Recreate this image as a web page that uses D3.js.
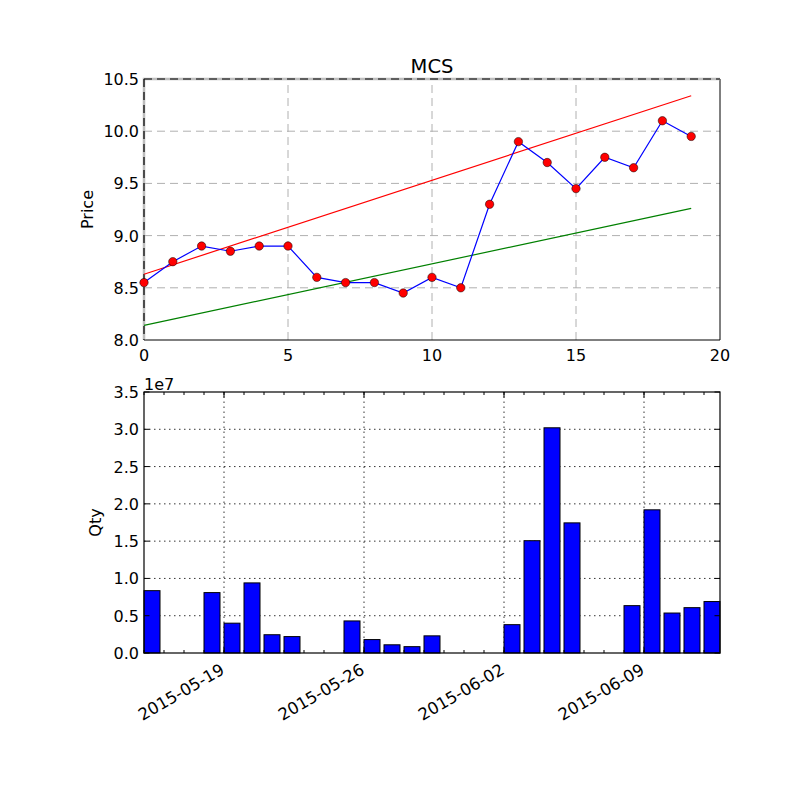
<!DOCTYPE html>
<html>
<head>
<meta charset="utf-8">
<script src="https://cdn.jsdelivr.net/npm/d3@7"></script>
<style>
  body { margin: 0; background: #fff; }
  text { font-family: "DejaVu Sans", sans-serif; fill: #000; }
</style>
</head>
<body>
<script>
// price series (index 0..19)
const priceIdx = d3.range(20);
const prices = [8.55, 8.75, 8.90, 8.85, 8.90, 8.90, 8.60, 8.55, 8.55, 8.45,
                8.60, 8.50, 9.30, 9.90, 9.70, 9.45, 9.75, 9.65, 10.10, 9.95];
// trend lines (end points at index 0 and 19)
const upperTrend = [[0, 8.63], [19, 10.34]];
const lowerTrend = [[0, 8.14], [19, 9.26]];

// volume
const dates = ["2015-05-15", "2015-05-18", "2015-05-19", "2015-05-20", "2015-05-21", "2015-05-22",
               "2015-05-25", "2015-05-26", "2015-05-27", "2015-05-28", "2015-05-29",
               "2015-06-02", "2015-06-03", "2015-06-04", "2015-06-05",
               "2015-06-08", "2015-06-09", "2015-06-10", "2015-06-11", "2015-06-12"];
const qty = [8.36e6, 8.1e6, 4.0e6, 9.4e6, 2.45e6, 2.2e6,
             4.3e6, 1.8e6, 1.1e6, 0.85e6, 2.3e6,
             3.8e6, 1.506e7, 3.02e7, 1.745e7,
             6.35e6, 1.92e7, 5.36e6, 6.08e6, 6.9e6];
const dateTicks = ["2015-05-19", "2015-05-26", "2015-06-02", "2015-06-09"];
const priceYTicks = [8.0, 8.5, 9.0, 9.5, 10.0, 10.5];
const priceXTicks = [0, 5, 10, 15, 20];
const qtyTicks = [0, 0.5e7, 1e7, 1.5e7, 2e7, 2.5e7, 3e7, 3.5e7];

const parse = d3.utcParse("%Y-%m-%d");
const fmt = d3.utcFormat("%Y-%m-%d");
const DAY = 864e5;

const svg = d3.select("body").append("svg").attr("width", 800).attr("height", 797);

// ---------- top: price ----------
const L = 144, R = 720;
const x1 = d3.scaleLinear().domain([0, 20]).range([L, R]);
const y1 = d3.scaleLinear().domain([8, 10.5]).range([340, 79]);

const gTop = svg.append("g");
gTop.append("g").selectAll("line").data(priceXTicks.slice(1, -1)).join("line")
  .attr("x1", d => x1(d)).attr("x2", d => x1(d)).attr("y1", y1(8)).attr("y2", y1(10.5))
  .attr("stroke", "#b0b0b0").attr("stroke-dasharray", "8,5");
gTop.append("g").selectAll("line").data(priceYTicks.slice(1, -1)).join("line")
  .attr("y1", d => y1(d)).attr("y2", d => y1(d)).attr("x1", L).attr("x2", R)
  .attr("stroke", "#b0b0b0").attr("stroke-dasharray", "8,5");

// frame: right/bottom solid, top/left grey with black dashes
gTop.append("path").attr("d", `M${L},${y1(8)}H${R}V${y1(10.5)}`)
  .attr("fill", "none").attr("stroke", "#000");
gTop.append("path").attr("d", `M${L},${y1(8)}V${y1(10.5)}H${R}`)
  .attr("fill", "none").attr("stroke", "#bdbdbd").attr("stroke-width", 2.5);
gTop.append("path").attr("d", `M${L},${y1(10.5)}V${y1(8)}M${L},${y1(10.5)}H${R}`)
  .attr("fill", "none").attr("stroke", "#000").attr("stroke-width", 1.2).attr("stroke-dasharray", "8,5");

const tl = d3.line().x(d => x1(d[0])).y(d => y1(d[1]));
gTop.append("path").datum(upperTrend).attr("d", tl).attr("fill", "none").attr("stroke", "#ff0000").attr("stroke-width", 1.2);
gTop.append("path").datum(lowerTrend).attr("d", tl).attr("fill", "none").attr("stroke", "#008000").attr("stroke-width", 1.2);

const pl = d3.line().x((d, i) => x1(priceIdx[i])).y(d => y1(d));
gTop.append("path").datum(prices).attr("d", pl).attr("fill", "none").attr("stroke", "#0000ff").attr("stroke-width", 1.2);
gTop.append("g").selectAll("circle").data(prices).join("circle")
  .attr("cx", (d, i) => x1(priceIdx[i])).attr("cy", d => y1(d)).attr("r", 4.2)
  .attr("fill", "#ff0000").attr("stroke", "#000").attr("stroke-width", 0.5);

gTop.append("g").selectAll("text").data(priceYTicks).join("text")
  .attr("x", 139).attr("y", d => y1(d) + 6).attr("text-anchor", "end").attr("font-size", 16)
  .text(d => d.toFixed(1));
gTop.append("g").selectAll("text").data(priceXTicks).join("text")
  .attr("x", d => x1(d)).attr("y", 361).attr("text-anchor", "middle").attr("font-size", 16)
  .text(d => d);
gTop.append("text").attr("x", (L + R) / 2).attr("y", 73).attr("text-anchor", "middle")
  .attr("font-size", 19.5).text("MCS");
gTop.append("text").attr("transform", `translate(93,${(79 + 340) / 2}) rotate(-90)`)
  .attr("text-anchor", "middle").attr("font-size", 16).text("Price");

// ---------- bottom: qty ----------
const d0 = parse(dates[0]), d1 = new Date(+parse(dates[dates.length - 1]) + 0.8 * DAY);
const x2 = d3.scaleUtc().domain([d0, d1]).range([L, R]);
const y2 = d3.scaleLinear().domain([0, 3.5e7]).range([653, 392]);
const gBot = svg.append("g");

gBot.append("g").selectAll("line").data(dateTicks).join("line")
  .attr("x1", d => x2(parse(d))).attr("x2", d => x2(parse(d))).attr("y1", y2(0)).attr("y2", y2(3.5e7))
  .attr("stroke", "#000").attr("stroke-width", 0.8).attr("stroke-dasharray", "1.5,3.5");
gBot.append("g").selectAll("line").data(qtyTicks.slice(1, -1)).join("line")
  .attr("y1", d => y2(d)).attr("y2", d => y2(d)).attr("x1", L).attr("x2", R)
  .attr("stroke", "#000").attr("stroke-width", 0.8).attr("stroke-dasharray", "1.5,3.5");

gBot.append("g").selectAll("rect").data(qty).join("rect")
  .attr("x", (d, i) => x2(parse(dates[i])))
  .attr("width", (d, i) => x2(new Date(+parse(dates[i]) + 0.8 * DAY)) - x2(parse(dates[i])))
  .attr("y", d => y2(d)).attr("height", d => y2(0) - y2(d))
  .attr("fill", "#0000ff").attr("stroke", "#000").attr("stroke-width", 1);

// ticks (inside, all sides)
const days = d3.utcDay.range(d0, d1);
const tk = gBot.append("g").attr("stroke", "#000").attr("stroke-width", 1);
tk.selectAll(".mn").data(days).join("path").attr("class", "mn")
  .attr("d", d => `M${x2(d)},${y2(0)}v-3M${x2(d)},${y2(3.5e7)}v3`);
tk.selectAll(".mj").data(dateTicks).join("path").attr("class", "mj")
  .attr("d", d => `M${x2(parse(d))},${y2(0)}v-5.5M${x2(parse(d))},${y2(3.5e7)}v5.5`);
tk.selectAll(".yt").data(qtyTicks).join("path").attr("class", "yt")
  .attr("d", d => `M${L},${y2(d)}h5.5M${R},${y2(d)}h-5.5`);

gBot.append("rect").attr("x", L).attr("y", y2(3.5e7)).attr("width", R - L).attr("height", y2(0) - y2(3.5e7))
  .attr("fill", "none").attr("stroke", "#000").attr("stroke-width", 1.2);

gBot.append("g").selectAll("text").data(qtyTicks).join("text")
  .attr("x", 139).attr("y", d => y2(d) + 6).attr("text-anchor", "end").attr("font-size", 16)
  .text(d => (d / 1e7).toFixed(1));
gBot.append("text").attr("x", 144).attr("y", 390).attr("font-size", 16).text("1e7");
gBot.append("g").selectAll("text").data(dateTicks).join("text")
  .attr("transform", d => `translate(${x2(parse(d)) + 1.5},673) rotate(-30)`)
  .attr("text-anchor", "end").attr("font-size", 16.5)
  .text(d => fmt(parse(d)));
gBot.append("text").attr("transform", `translate(101,${(392 + 653) / 2}) rotate(-90)`)
  .attr("text-anchor", "middle").attr("font-size", 16).text("Qty");
</script>
</body>
</html>
